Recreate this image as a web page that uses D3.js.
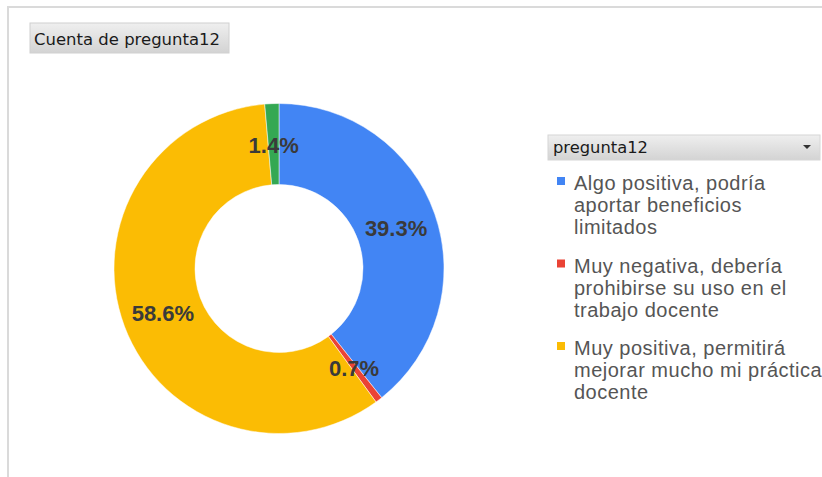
<!DOCTYPE html>
<html>
<head>
<meta charset="utf-8">
<script src="https://cdn.jsdelivr.net/npm/d3@7"></script>
<style>
  html, body { margin: 0; padding: 0; background: #fff; }
  svg { display: block; }
</style>
</head>
<body>
<svg id="chart" width="822" height="477"></svg>
<script>
// pivot chart data: count of pregunta12
const categories = [
  'Algo positiva, podría aportar beneficios limitados',
  'Muy negativa, debería prohibirse su uso en el trabajo docente',
  'Muy positiva, permitirá mejorar mucho mi práctica docente',
  '(en blanco)'
];
const counts = [57, 1, 85, 2];
const colors = ['#4285f4', '#ea4335', '#fbbc04', '#34a853'];
// legend text as it wraps in the original (only 3 entries are visible)
const legendLines = [
  ['Algo positiva, podría', 'aportar beneficios', 'limitados'],
  ['Muy negativa, debería', 'prohibirse su uso en el', 'trabajo docente'],
  ['Muy positiva, permitirá', 'mejorar mucho mi práctica', 'docente']
];
const chartTitle = 'Cuenta de pregunta12';
const legendTitle = 'pregunta12';

const width = 822, height = 477;
const cx = 279, cy = 268.5, outerR = 165, innerR = 84;

const svg = d3.select('#chart');

const defs = svg.append('defs');
const grad = defs.append('linearGradient')
  .attr('id', 'btnGrad').attr('x1', 0).attr('x2', 0).attr('y1', 0).attr('y2', 1);
grad.append('stop').attr('offset', '0%').attr('stop-color', '#efefef');
grad.append('stop').attr('offset', '100%').attr('stop-color', '#d3d3d3');

// outer frame (top and left edges visible)
svg.append('path')
  .attr('d', `M8,${height} L8,7 L${width},7`)
  .attr('fill', 'none')
  .attr('stroke', '#dadada')
  .attr('stroke-width', 2);

// title button
svg.append('rect')
  .attr('x', 30).attr('y', 23).attr('width', 199).attr('height', 30)
  .attr('fill', 'url(#btnGrad)')
  .attr('stroke', '#d0d0d0');
svg.append('text')
  .attr('x', 34).attr('y', 45)
  .attr('font-family', 'DejaVu Sans')
  .attr('font-size', 16.5)
  .attr('fill', '#1a1a1a')
  .attr('textLength', 186)
  .attr('lengthAdjust', 'spacingAndGlyphs')
  .text(chartTitle);

// donut
const total = d3.sum(counts);
const pct = d3.format('.1%');
const pie = d3.pie().sort(null).value(d => d)(counts);
const arc = d3.arc().innerRadius(innerR).outerRadius(outerR);
const labelArc = d3.arc().innerRadius(124).outerRadius(124);

const g = svg.append('g').attr('transform', `translate(${cx},${cy})`);

g.selectAll('path.slice')
  .data(pie)
  .join('path')
  .attr('class', 'slice')
  .attr('d', arc)
  .attr('fill', (d, i) => colors[i])
  .attr('stroke', '#fff')
  .attr('stroke-width', 0.5);

g.selectAll('text.pct')
  .data(pie)
  .join('text')
  .attr('class', 'pct')
  .attr('transform', d => `translate(${labelArc.centroid(d)})`)
  .attr('text-anchor', 'middle')
  .attr('dy', '0.4em')
  .attr('font-family', 'Liberation Sans, Arial')
  .attr('font-weight', 'bold')
  .attr('font-size', 22)
  .attr('fill', '#3a3a3a')
  .text(d => pct(d.data / total));

// legend header
const lg = svg.append('g');
lg.append('rect')
  .attr('x', 548).attr('y', 135).attr('width', 272).attr('height', 25)
  .attr('fill', 'url(#btnGrad)')
  .attr('stroke', '#d6d6d6');
lg.append('text')
  .attr('x', 553).attr('y', 153)
  .attr('font-family', 'DejaVu Sans')
  .attr('font-size', 16.5)
  .attr('fill', '#1a1a1a')
  .attr('textLength', 95)
  .attr('lengthAdjust', 'spacingAndGlyphs')
  .text(legendTitle);
lg.append('path')
  .attr('d', 'M803,145 L811,145 L807,149 Z')
  .attr('fill', '#333');

// legend items
const itemY = d3.scaleLinear().domain([0, 1]).range([190, 272.5]);
const items = lg.selectAll('g.item')
  .data(legendLines)
  .join('g')
  .attr('class', 'item')
  .attr('transform', (d, i) => `translate(0,${itemY(i)})`);

items.append('rect')
  .attr('x', 557).attr('y', -13).attr('width', 8).attr('height', 8)
  .attr('fill', (d, i) => colors[i]);

items.append('text')
  .attr('font-family', 'Liberation Sans, Arial')
  .attr('font-size', 20)
  .attr('letter-spacing', 0.5)
  .attr('fill', '#555')
  .selectAll('tspan')
  .data(d => d)
  .join('tspan')
  .attr('x', 574)
  .attr('y', (d, j) => j * 22)
  .text(d => d);
</script>
</body>
</html>
